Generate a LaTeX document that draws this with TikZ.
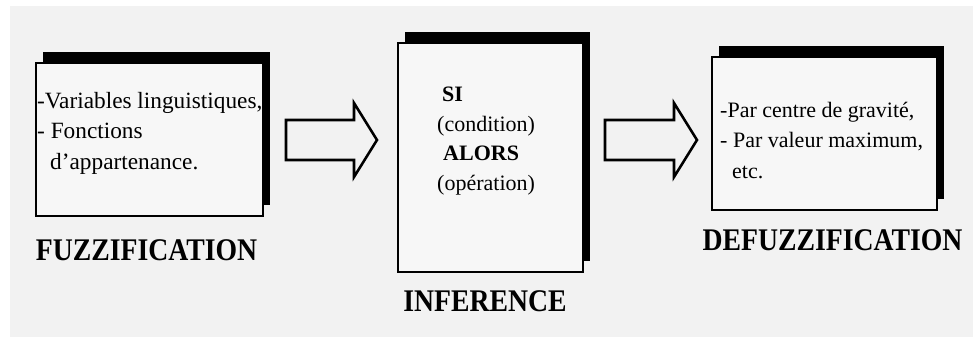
\documentclass[tikz,border=0pt]{standalone}
\usepackage{fontspec}
\setmainfont{Liberation Serif}
\newfontfamily\lblfont[FakeStretch=0.88]{Liberation Serif}
\usetikzlibrary{calc,shadows}

\begin{document}
\begin{tikzpicture}[x=1pt, y=-1pt,
		stepbox/.style={draw, line width=0.7mm, fill=black!3, inner sep=0pt,
			drop shadow={shadow xshift=7pt, shadow yshift=11pt, fill=black, opacity=1}},
		boxtext/.style={anchor=north west, inner sep=0pt, align=left, font=\fontsize{22}{30.5}\selectfont},
		lbl/.style={anchor=base, inner sep=0pt, font=\lblfont\bfseries\fontsize{31.5}{36}\selectfont},
		blockarrow/.style={line width=0.9mm, line join=miter, fill=black!5}]
		%%%%% START %%%%%
		
		\useasboundingbox (0,0) rectangle (973,340);
		\fill[black!5] (10,6) rectangle (973,337);
		
		\node[stepbox, minimum width=227pt, minimum height=153pt] (fuzz) at (149.5,139.5) {};
		\node[stepbox, minimum width=185pt, minimum height=229pt] (infer) at (490.5,157.5) {};
		\node[stepbox, minimum width=225pt, minimum height=153pt] (defuzz) at (824.5,133.5) {};
		
		\node[boxtext, font=\fontsize{23.3}{30.5}\selectfont] (fuzztxt) at (37,92) {-Variables linguistiques,\\- Fonctions\\\hspace*{13pt}d’appartenance.};
		\node[boxtext, font=\fontsize{22}{29.5}\selectfont] (infertxt) at (437,87) {\hspace*{5pt}\textbf{SI}\\(condition)\\\hspace*{6pt}\textbf{ALORS}\\(opération)};
		\node[boxtext] (defuzztxt) at (720,102) {-Par centre de gravité,\\- Par valeur maximum,\\\hspace*{12pt}etc.};
		
		\node[lbl] (fuzzlbl) at (146.5,260) {FUZZIFICATION};
		\node[lbl] (inferlbl) at (485,311) {INFERENCE};
		\node[lbl] (defuzzlbl) at (832.5,250) {DEFUZZIFICATION};
		
		\draw[blockarrow] ($(fuzz.east)+(22,0.5)$) ++(0,-20) -- ++(68,0) -- ++(0,-17) -- ++(23,37)
			-- ++(-23,37) -- ++(0,-17) -- ++(-68,0) -- cycle;
		\draw[blockarrow] ($(infer.east |- fuzz.east)+(21,0.5)$) ++(0,-20) -- ++(69,0) -- ++(0,-17) -- ++(23,37)
			-- ++(-23,37) -- ++(0,-17) -- ++(-69,0) -- cycle;
		
		%%%%% END %%%%%
	\end{tikzpicture}
\end{document}
